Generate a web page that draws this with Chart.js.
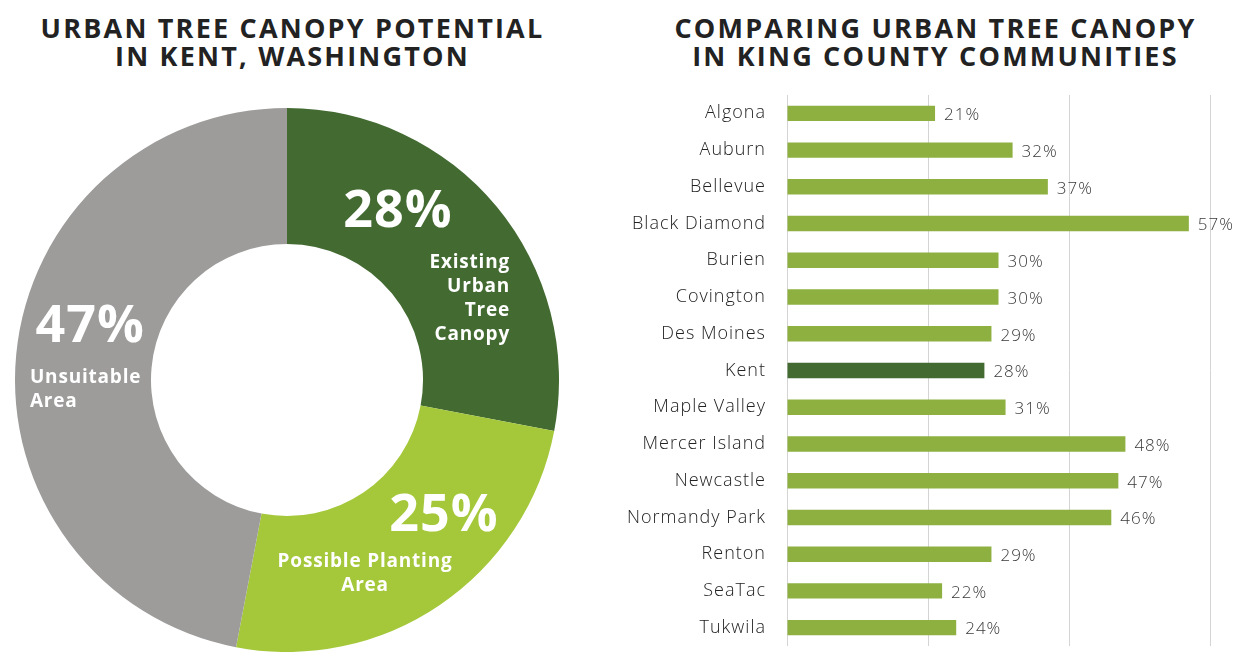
<!DOCTYPE html>
<html>
<head>
<meta charset="utf-8">
<script src="https://cdn.jsdelivr.net/npm/chart.js@4.4.1/dist/chart.umd.min.js"></script>
<style>
    body { margin: 0; background: #fff; width: 1241px; height: 668px; position: relative; overflow: hidden; font-family: Lato, "Open Sans", sans-serif; }
    .title { position: absolute; text-align: center; font-family: "Open Sans", Lato, sans-serif; font-weight: 700; font-size: 27px; line-height: 28px; color: #222; letter-spacing: 2.2px; }
    #donutWrap { position: absolute; left: 15px; top: 108px; width: 544px; height: 544px; }
    #barWrap { position: absolute; left: 590px; top: 90px; width: 651px; height: 568px; }
</style>
</head>
<body>
<div class="title" style="left:0; top:14px; width:585px;">URBAN TREE CANOPY POTENTIAL<br>IN KENT, WASHINGTON</div>
<div class="title" style="left:630px; top:14px; width:611px;">COMPARING URBAN TREE CANOPY<br>IN KING COUNTY COMMUNITIES</div>
<div id="donutWrap"><canvas id="canopyDonut"></canvas></div>
<div id="barWrap"><canvas id="communityBar"></canvas></div>
<script>
// 도넛 데이터
var donutLabels = ['Existing Urban Tree Canopy', 'Possible Planting Area', 'Unsuitable Area'];
var donutValues = [28, 25, 47];
var donutColors = ['#426a31', '#a5c83b', '#9d9c9b'];

// 막대 데이터
var cities = ['Algona', 'Auburn', 'Bellevue', 'Black Diamond', 'Burien', 'Covington', 'Des Moines', 'Kent',
    'Maple Valley', 'Mercer Island', 'Newcastle', 'Normandy Park', 'Renton', 'SeaTac', 'Tukwila'];
var canopyPct = [21, 32, 37, 57, 30, 30, 29, 28, 31, 48, 47, 46, 29, 22, 24];
var xTicks = [0, 20, 40, 60];

// 도넛 안쪽 글씨 (비율은 반지름 기준)
var donutText = [
    { big: [0.408, -0.618], lines: ['Existing', 'Urban', 'Tree', 'Canopy'], at: [0.82, -0.43], align: 'right' },
    { big: [0.577, 0.50], lines: ['Possible Planting', 'Area'], at: [0.287, 0.668], align: 'center' },
    { big: [-0.724, -0.195], lines: ['Unsuitable', 'Area'], at: [-0.945, -0.01], align: 'left' }
];

var donutLabelPlugin = {
    id: 'donutLabel',
    afterDatasetsDraw: function (chart) {
        var ctx = chart.ctx;
        var meta = chart.getDatasetMeta(0);
        meta.data.forEach(function (arc, i) {
            var p = arc.getProps(['x', 'y', 'outerRadius']);
            var R = p.outerRadius;
            var t = donutText[i];
            ctx.save();
            ctx.fillStyle = '#fff';
            ctx.textBaseline = 'middle';
            ctx.textAlign = 'center';
            ctx.letterSpacing = '1px';
            ctx.font = '700 52px "Open Sans", Lato, sans-serif';
            ctx.fillText(donutValues[i] + '%', p.x + t.big[0] * R, p.y + t.big[1] * R);
            ctx.font = '700 19px "Open Sans", Lato, sans-serif';
            ctx.letterSpacing = '0.8px';
            ctx.textAlign = t.align;
            for (var k = 0; k < t.lines.length; k++) {
                ctx.fillText(t.lines[k], p.x + t.at[0] * R, p.y + t.at[1] * R + k * 24);
            }
            ctx.restore();
        });
    }
};

// 글자 간격을 조금 넓힘
var spacingPlugin = {
    id: 'spacing',
    beforeInit: function (chart) { chart.ctx.letterSpacing = '1px'; },
    beforeDraw: function (chart) { chart.ctx.letterSpacing = '1px'; }
};

var barLabelPlugin = {
    id: 'barLabel',
    afterDatasetsDraw: function (chart) {
        var ctx = chart.ctx;
        var meta = chart.getDatasetMeta(0);
        ctx.save();
        ctx.fillStyle = '#3a3a3a';
        ctx.letterSpacing = '1px';
        ctx.font = '300 17px "Open Sans", Lato, sans-serif';
        ctx.textAlign = 'left';
        ctx.textBaseline = 'middle';
        meta.data.forEach(function (bar, i) {
            ctx.fillText(canopyPct[i] + '%', bar.x + 9, bar.y + 2);
        });
        ctx.restore();
    }
};

var CanopyDonutChart = new Chart(document.getElementById('canopyDonut'), {
    type: 'doughnut',
    data: {
        labels: donutLabels,
        datasets: [{
            data: donutValues,
            backgroundColor: donutColors,
            borderWidth: 0
        }]
    },
    options: {
        responsive: true,
        maintainAspectRatio: false,
        animation: false,
        cutout: '50%',
        layout: { padding: 0 },
        plugins: { legend: { display: false }, tooltip: { enabled: false } }
    },
    plugins: [donutLabelPlugin]
});

var CommunityBarChart = new Chart(document.getElementById('communityBar'), {
    type: 'bar',
    data: {
        labels: cities,
        datasets: [{
            label: 'Urban tree canopy',
            data: canopyPct,
            backgroundColor: cities.map(function (c) { return c === 'Kent' ? '#426a31' : '#8db040'; }),
            categoryPercentage: 1,
            barPercentage: 0.42
        }]
    },
    options: {
        indexAxis: 'y',
        responsive: true,
        maintainAspectRatio: false,
        animation: false,
        layout: { padding: { top: 5, bottom: 12, right: 31, left: 0 } },
        scales: {
            x: {
                min: 0,
                max: 60,
                afterBuildTicks: function (scale) {
                    scale.ticks = xTicks.map(function (v) { return { value: v }; });
                },
                ticks: { display: false },
                grid: { color: '#d4d4d4', lineWidth: 1, drawTicks: false },
                border: { display: false }
            },
            y: {
                afterFit: function (scale) {
                    scale.width = 197;
                    scale.paddingTop = 0;
                    scale.paddingBottom = 0;
                },
                grid: { display: false },
                border: { display: false },
                ticks: {
                    color: '#222',
                    padding: 13,
                    font: { family: '"Open Sans", Lato, sans-serif', size: 18, weight: 300 }
                }
            }
        },
        plugins: { legend: { display: false }, tooltip: { enabled: false } }
    },
    plugins: [spacingPlugin, barLabelPlugin]
});
</script>
</body>
</html>
